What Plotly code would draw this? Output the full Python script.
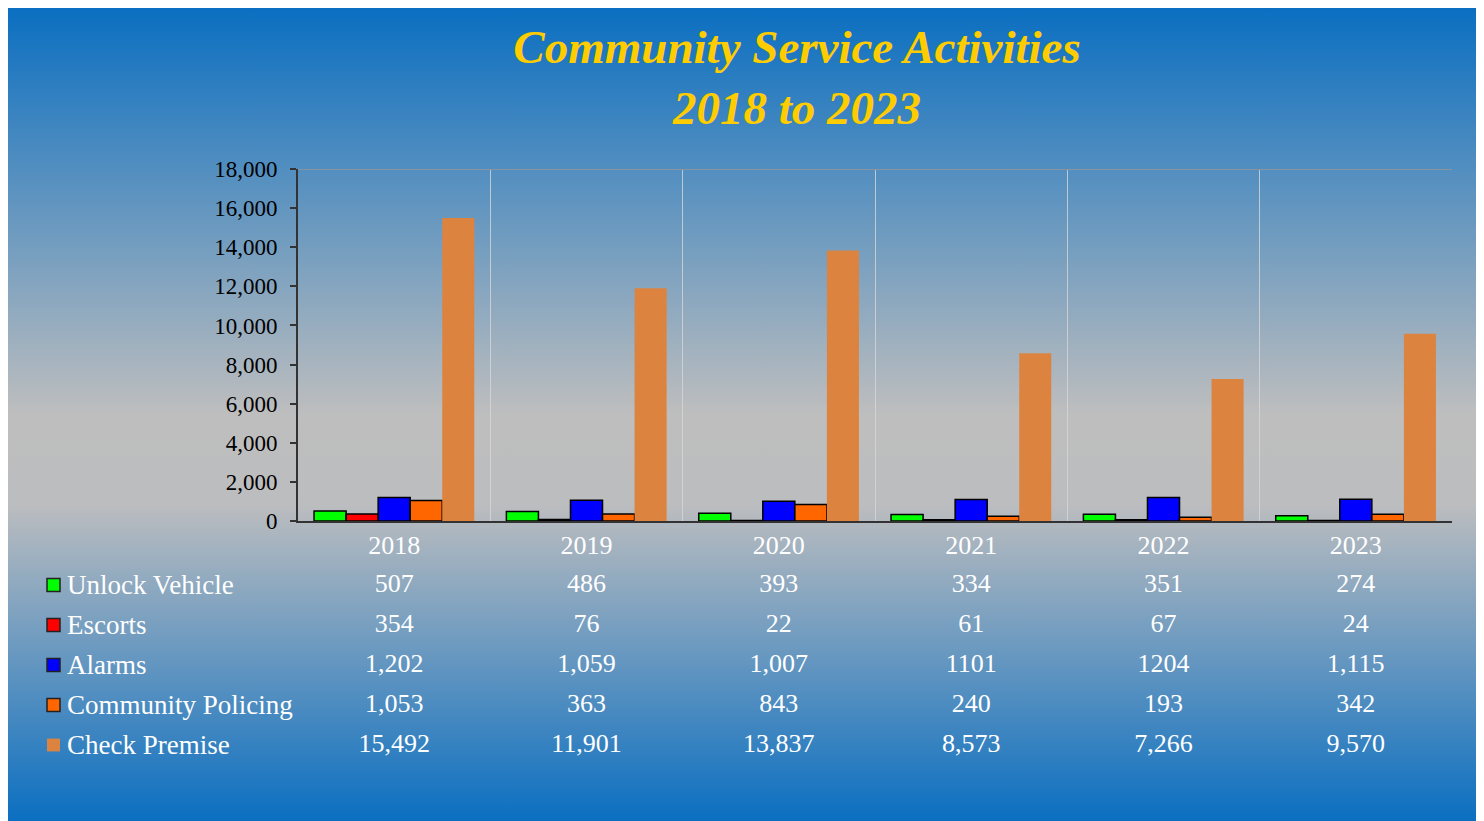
import base64
import plotly.graph_objects as go

years = ['2018', '2019', '2020', '2021', '2022', '2023']
series_names = ['Unlock Vehicle', 'Escorts', 'Alarms', 'Community Policing', 'Check Premise']
unlock_vehicle = [507, 486, 393, 334, 351, 274]
escorts = [354, 76, 22, 61, 67, 24]
alarms = [1202, 1059, 1007, 1101, 1204, 1115]
community_policing = [1053, 363, 843, 240, 193, 342]
check_premise = [15492, 11901, 13837, 8573, 7266, 9570]
# the table prints two of the alarm counts without a thousands separator
alarms_labels = ['1,202', '1,059', '1,007', '1101', '1204', '1,115']

colors = ['#00ff00', '#ff0000', '#0000ff', '#ff6600', '#dc843f']
outlined = [True, True, True, True, False]

# page body adds an 8px margin, so the figure is the window minus 16px
W, H = 1468, 813
L, R, T, B = 290, 24, 161, 51
plot_w, plot_h = W - L - R, H - T - B


def px_x(px):
    return (px - L) / plot_w


def px_y(py):
    return (H - B - py) / plot_h


svg = (
    '<svg xmlns="http://www.w3.org/2000/svg" width="100" height="100" viewBox="0 0 100 100" '
    'preserveAspectRatio="none"><defs><linearGradient id="g" x1="0" y1="0" x2="0" y2="1">'
    '<stop offset="0" stop-color="#0b6fc1"/><stop offset="0.5" stop-color="#bebebe"/>'
    '<stop offset="0.61" stop-color="#bcbdbf"/><stop offset="1" stop-color="#0b6fc1"/>'
    '</linearGradient></defs><rect width="100" height="100" fill="url(#g)"/></svg>'
)
bg_src = 'data:image/svg+xml;base64,' + base64.b64encode(svg.encode()).decode()

all_values = [unlock_vehicle, escorts, alarms, community_policing, check_premise]
all_labels = [[f'{v:,}' for v in unlock_vehicle], [f'{v:,}' for v in escorts], alarms_labels,
              [f'{v:,}' for v in community_policing], [f'{v:,}' for v in check_premise]]

fig = go.Figure()

for name, vals, col, ol in zip(series_names, all_values, colors, outlined):
    fig.add_trace(go.Bar(
        x=years, y=vals, name=name,
        marker=dict(color=col, line=dict(color='black' if ol else col, width=1.5 if ol else 0)),
        xaxis='x', yaxis='y', showlegend=False,
    ))

# data table under the chart
for i, (labels, col, ol) in enumerate(zip(all_labels, colors, outlined)):
    fig.add_trace(go.Scatter(
        x=years, y=[i] * len(years), text=labels, mode='text',
        textfont=dict(family='Liberation Serif', size=26, color='white'),
        xaxis='x2', yaxis='y2', showlegend=False, hoverinfo='skip',
    ))
    fig.add_annotation(
        x=px_x(57), y=i, xref='paper', yref='y2', text=series_names[i],
        xanchor='left', yanchor='middle', showarrow=False,
        font=dict(family='Liberation Serif', size=27, color='white'),
    )
    fig.add_shape(
        type='rect', xref='paper', yref='y2',
        x0=px_x(39), x1=px_x(52), y0=i - 0.16, y1=i + 0.16,
        fillcolor=col, line=dict(color='#222' if ol else col, width=1.5 if ol else 0),
    )

# plot frame: grey top border
fig.add_shape(type='line', xref='paper', yref='y', x0=0, x1=1, y0=18000, y1=18000,
              line=dict(color='#8a949e', width=2))

fig.update_layout(
    width=W, height=H,
    margin=dict(l=L, r=R, t=T, b=B),
    paper_bgcolor='#0b6fc1', plot_bgcolor='rgba(0,0,0,0)',
    font=dict(family='Liberation Serif', color='black'),
    title=dict(
        text='Community Service Activities<br>2018 to 2023',
        x=789 / W, xanchor='center', y=1 - 55 / H, yanchor='top',
        font=dict(family='Liberation Serif', size=47, color='#ffcc00', weight='bold', style='italic'),
    ),
    bargap=0.167, bargroupgap=0,
    xaxis=dict(
        type='category', range=[-0.5, 5.5], anchor='y',
        showgrid=True, gridcolor='rgba(215,215,215,0.8)', gridwidth=1, tickson='boundaries',
        ticks='', showline=True, linecolor='#333', linewidth=2,
        tickfont=dict(family='Liberation Serif', size=26, color='white'),
    ),
    yaxis=dict(
        domain=[px_y(513), 1], range=[0, 18000], dtick=2000, tickformat=',',
        showgrid=False, zeroline=False, showline=True, linecolor='#333', linewidth=2,
        ticks='outside', ticklen=6, tickcolor='#333', tickwidth=1.5, ticklabelstandoff=8,
        tickfont=dict(family='Liberation Serif', size=23, color='black'),
    ),
    xaxis2=dict(matches='x', anchor='y2', visible=False),
    yaxis2=dict(domain=[0, px_y(556)], range=[(762 - 577) / 40, (556 - 577) / 40], visible=False),
    images=[dict(
        source=bg_src, xref='paper', yref='paper',
        x=px_x(0), y=px_y(0), sizex=W / plot_w, sizey=H / plot_h,
        xanchor='left', yanchor='top', sizing='stretch', layer='below',
    )],
)

fig.write_html('out.html')
